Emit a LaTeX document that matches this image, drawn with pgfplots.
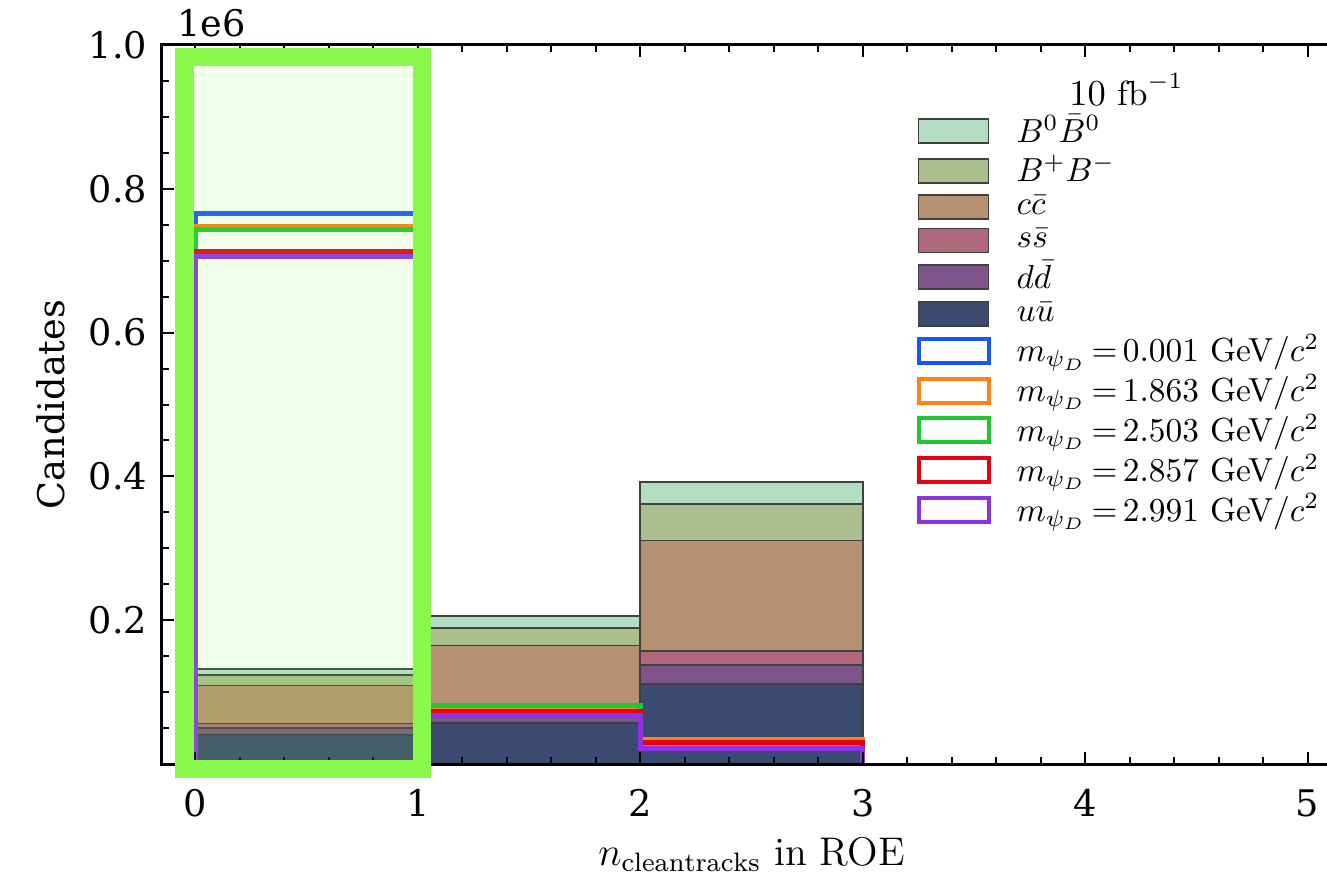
\documentclass[border=0pt]{standalone}
\usepackage{fontspec}
\usepackage{pgfplots}
\pgfplotsset{compat=1.18}
\newfontfamily\dejavu{DejaVu Serif}
\definecolor{cB0}{RGB}{179,222,196}
\definecolor{cBp}{RGB}{170,191,140}
\definecolor{ccc}{RGB}{181,145,113}
\definecolor{css}{RGB}{174,106,124}
\definecolor{cdd}{RGB}{125,83,140}
\definecolor{cuu}{RGB}{59,74,112}
\definecolor{sblue}{RGB}{25,85,255}
\definecolor{sorange}{RGB}{255,130,20}
\definecolor{sgreen}{RGB}{30,200,50}
\definecolor{sred}{RGB}{230,0,20}
\definecolor{spurple}{RGB}{140,50,230}
\definecolor{boxgreen}{RGB}{136,249,74}
\begin{document}
\begin{tikzpicture}
\begin{axis}[
  scale only axis, width=353.7pt, height=215.7pt,
  xmin=-0.15, xmax=5.15, ymin=0, ymax=1,
  xtick={0,1,2,3,4,5}, xticklabels={0,1,2,3,4,5}, minor x tick num=4,
  ytick={0,0.2,0.4,0.6,0.8,1.0}, yticklabels={{},0.2,0.4,0.6,0.8,1.0}, minor y tick num=3,
  tick align=inside, major tick length=3.6pt, minor tick length=2pt,
  every tick/.style={black, line width=0.6pt},
  axis line style={line width=0.9pt},
  axis on top,
  clip=false,
  ticklabel style={font=\dejavu\fontsize{11}{13}\selectfont},
  xticklabel style={yshift=-4.1pt},
  yticklabel style={xshift=-0.9pt},
  xlabel={$n_{\mathrm{cleantracks}}$ in ROE},
  xlabel style={font=\fontsize{12}{14}\selectfont, at={(axis description cs:0.5,0)}, anchor=base, yshift=-30.5pt},
  ylabel={Candidates},
  ylabel style={font=\dejavu\fontsize{11}{13}\selectfont, at={(axis description cs:-0.0823,0.5)}, anchor=base},
  legend style={at={(0.6395,0.9035)}, anchor=north west, draw=none, fill=none, inner sep=0pt,
    font=\fontsize{10}{12}\selectfont, row sep=2.3pt, column sep=7.8pt, nodes={inner sep=0pt}},
  legend cell align=left,
  legend image code/.code={\draw[#1] (0pt,-3.6pt) rectangle (21pt,3.6pt);},
]
% legend entries
\addlegendimage{fill=cB0, draw=black!75, line width=0.5pt}
\addlegendentry{$B^0\bar{B}^0$}
\addlegendimage{fill=cBp, draw=black!75, line width=0.5pt}
\addlegendentry{$B^+B^-$}
\addlegendimage{fill=ccc, draw=black!75, line width=0.5pt}
\addlegendentry{$c\bar{c}$}
\addlegendimage{fill=css, draw=black!75, line width=0.5pt}
\addlegendentry{$s\bar{s}$}
\addlegendimage{fill=cdd, draw=black!75, line width=0.5pt}
\addlegendentry{$d\bar{d}$}
\addlegendimage{fill=cuu, draw=black!75, line width=0.5pt}
\addlegendentry{$u\bar{u}$}
\addlegendimage{draw=sblue, line width=1.2pt}
\addlegendentry{$m_{\psi_D}\mkern-2mu=\mkern-2mu0.001$ GeV/$c^2$}
\addlegendimage{draw=sorange, line width=1.2pt}
\addlegendentry{$m_{\psi_D}\mkern-2mu=\mkern-2mu1.863$ GeV/$c^2$}
\addlegendimage{draw=sgreen, line width=1.2pt}
\addlegendentry{$m_{\psi_D}\mkern-2mu=\mkern-2mu2.503$ GeV/$c^2$}
\addlegendimage{draw=sred, line width=1.2pt}
\addlegendentry{$m_{\psi_D}\mkern-2mu=\mkern-2mu2.857$ GeV/$c^2$}
\addlegendimage{draw=spurple, line width=1.2pt}
\addlegendentry{$m_{\psi_D}\mkern-2mu=\mkern-2mu2.991$ GeV/$c^2$}
% stacked backgrounds (cumulative tops, drawn from the top layer down)
\addplot[ybar, bar width=1, bar shift=0pt, fill=cB0, draw=black!75, line width=0.5pt, forget plot]
  coordinates {(0.5,0.132) (1.5,0.206) (2.5,0.392)};
\addplot[ybar, bar width=1, bar shift=0pt, fill=cBp, draw=black!75, line width=0.5pt, forget plot]
  coordinates {(0.5,0.124) (1.5,0.189) (2.5,0.362)};
\addplot[ybar, bar width=1, bar shift=0pt, fill=ccc, draw=black!75, line width=0.5pt, forget plot]
  coordinates {(0.5,0.109) (1.5,0.165) (2.5,0.311)};
\addplot[ybar, bar width=1, bar shift=0pt, fill=css, draw=black!75, line width=0.5pt, forget plot]
  coordinates {(0.5,0.0565) (1.5,0.075) (2.5,0.157)};
\addplot[ybar, bar width=1, bar shift=0pt, fill=cdd, draw=black!75, line width=0.5pt, forget plot]
  coordinates {(0.5,0.050) (1.5,0.066) (2.5,0.138)};
\addplot[ybar, bar width=1, bar shift=0pt, fill=cuu, draw=black!75, line width=0.5pt, forget plot]
  coordinates {(0.5,0.040) (1.5,0.057) (2.5,0.111)};
% signal step histograms
\addplot[const plot, draw=sblue, line width=1.5pt, forget plot]
  coordinates {(0,0) (0,0.765) (1,0)};
\addplot[const plot, draw=sorange, line width=1.5pt, forget plot]
  coordinates {(0,0) (0,0.747) (1,0.078) (2,0.034) (3,0)};
\addplot[const plot, draw=sgreen, line width=1.5pt, forget plot]
  coordinates {(0,0) (0,0.743) (1,0.082) (2,0.025) (3,0)};
\addplot[const plot, draw=sred, line width=1.5pt, forget plot]
  coordinates {(0,0) (0,0.713) (1,0.073) (2,0.030) (3,0)};
\addplot[const plot, draw=spurple, line width=1.5pt, forget plot]
  coordinates {(0,0) (0,0.706) (1,0.067) (2,0.021) (3,0)};
\coordinate (boxA) at (axis cs:-0.049,-0.0067);
\coordinate (boxB) at (axis cs:1.018,0.983);
\node[font=\fontsize{10.5}{12.5}\selectfont, anchor=base] at (rel axis cs:0.818,0.916) {$10\ \mathrm{fb}^{-1}$};
\node[font=\dejavu\fontsize{11}{13}\selectfont, anchor=base west, xshift=1pt, yshift=2.4pt] at (rel axis cs:0,1) {1e6};
\end{axis}
\draw[draw=boxgreen, line width=5.55pt, fill=boxgreen, fill opacity=0.12] (boxA) rectangle (boxB);
\pgfresetboundingbox
\path[use as bounding box] (current axis.south west) ++(-48.6pt,-36.3pt) rectangle ++(398.1pt,265.5pt);
\end{tikzpicture}
\end{document}
